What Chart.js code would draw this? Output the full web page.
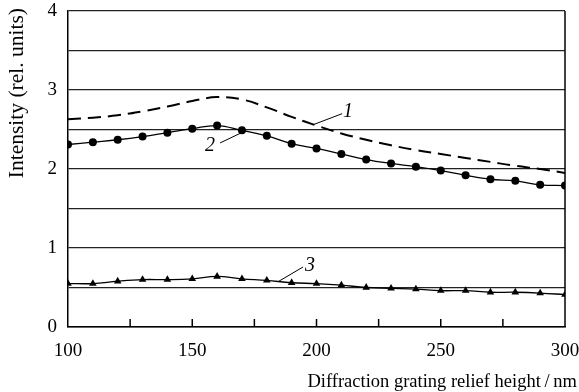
<!DOCTYPE html>
<html><head><meta charset="utf-8">
<script src="https://cdn.jsdelivr.net/npm/chart.js@4/dist/chart.umd.min.js"></script>
<style>html,body{margin:0;padding:0;background:#fff}#wrap{width:579px;height:392px}</style>
</head><body><div id="wrap"><canvas id="c" width="579" height="392"></canvas></div>
<script>
// ---- data ----
const heights = [100,110,120,130,140,150,160,170,180,190,200,210,220,230,240,250,260,270,280,290,300];
const curve1 = [2.63,2.65,2.68,2.73,2.79,2.86,2.91,2.88,2.78,2.66,2.55,2.45,2.37,2.30,2.24,2.19,2.14,2.09,2.04,2.00,1.95];
const curve2 = [2.31,2.34,2.37,2.41,2.46,2.51,2.55,2.49,2.42,2.32,2.26,2.19,2.12,2.07,2.03,1.98,1.92,1.87,1.85,1.80,1.79];
const curve3 = [0.55,0.55,0.58,0.60,0.60,0.61,0.64,0.61,0.59,0.56,0.55,0.53,0.50,0.49,0.48,0.46,0.46,0.44,0.44,0.43,0.41];
const xTickLabels = [100,150,200,250,300];
const yTickLabels = [0,1,2,3,4];
const curveNames = ['1','2','3'];
const xTitle = 'Diffraction grating relief height\u2009/\u2009nm';
const yTitle = 'Intensity (rel. units)';

// curve-label annotations in data coordinates: [text x, text y, leader start x, y, leader end x, y]
const curveLabelPlaces = [
  [212.7, 2.72, 198.6, 2.56, 210.3, 2.70],
  [157.1, 2.29, 161.2, 2.33, 171.2, 2.48],
  [197.4, 0.78, 184.9, 0.58, 194.6, 0.76]
];

const pts = arr => heights.map((h,i)=>({x:h,y:arr[i]}));
const FONT = "'Liberation Serif','Times New Roman',serif";

const decor = {
  id:'decor',
  afterDraw(chart){
    const ctx = chart.ctx, a = chart.chartArea, xs = chart.scales.x, ys = chart.scales.y;
    ctx.save();
    ctx.strokeStyle = '#000';
    ctx.lineWidth = 1.5;
    // right border
    ctx.beginPath(); ctx.moveTo(a.right, a.top); ctx.lineTo(a.right, a.bottom); ctx.stroke();
    // inner x ticks
    xs.ticks.forEach(t=>{
      if (t.value <= xs.min || t.value >= xs.max) return;
      const px = xs.getPixelForValue(t.value);
      ctx.beginPath(); ctx.moveTo(px, a.bottom); ctx.lineTo(px, a.bottom - 8); ctx.stroke();
    });
    // curve labels
    ctx.lineWidth = 1;
    ctx.fillStyle = '#000';
    ctx.font = "italic 20px " + FONT;
    ctx.textAlign = 'center'; ctx.textBaseline = 'middle';
    curveLabelPlaces.forEach((p,i)=>{
      ctx.beginPath();
      ctx.moveTo(xs.getPixelForValue(p[2]), ys.getPixelForValue(p[3]));
      ctx.lineTo(xs.getPixelForValue(p[4]), ys.getPixelForValue(p[5]));
      ctx.stroke();
      ctx.fillText(curveNames[i], xs.getPixelForValue(p[0]), ys.getPixelForValue(p[1]));
    });
    // axis titles
    ctx.font = "18.5px " + FONT;
    ctx.textAlign = 'right'; ctx.textBaseline = 'alphabetic';
    ctx.fillText(xTitle, 577, 387);
    ctx.save();
    ctx.font = "21.5px " + FONT;
    ctx.translate(23, 8);
    ctx.rotate(-Math.PI/2);
    ctx.textAlign = 'right';
    ctx.fillText(yTitle, 0, 0);
    ctx.restore();
    ctx.restore();
  }
};

new Chart(document.getElementById('c'), {
  type:'line',
  data:{
    datasets:[
      {label:'1', data:pts(curve1), borderColor:'#000', borderWidth:2, borderDash:[13,7], pointRadius:0, tension:0.4, fill:false},
      {label:'2', data:pts(curve2), borderColor:'#000', borderWidth:1.3, pointStyle:'circle', pointRadius:4, pointBackgroundColor:'#000', pointBorderWidth:0, tension:0.4, fill:false},
      {label:'3', data:pts(curve3), borderColor:'#000', borderWidth:1.3, pointStyle:'triangle', pointRadius:4.4, pointBackgroundColor:'#000', pointBorderWidth:0, tension:0.4, fill:false}
    ]
  },
  options:{
    responsive:false, animation:false, devicePixelRatio:1,
    layout:{padding:{top:11,right:14,left:0,bottom:0}},
    plugins:{legend:{display:false}, tooltip:{enabled:false}},
    scales:{
      x:{type:'linear', min:100, max:300,
        ticks:{stepSize:25, autoSkip:false, maxRotation:0, color:'#000', font:{family:FONT,size:19}, padding:13,
          callback:v=> xTickLabels.includes(v) ? String(v) : ''},
        grid:{drawOnChartArea:false, drawTicks:false},
        border:{display:true, color:'#000', width:1.5},
        afterFit:s=>{s.height = 65; s.paddingLeft = 0; s.paddingRight = 0;}
      },
      y:{min:0, max:4,
        ticks:{stepSize:0.5, autoSkip:false, color:'#000', font:{family:FONT,size:19}, padding:11,
          callback:v=> yTickLabels.includes(v) ? String(v) : ''},
        grid:{color:'#222', lineWidth:1.2, drawTicks:false},
        border:{display:true, color:'#000', width:1.5},
        afterFit:s=>{s.width = 68; s.paddingTop = 0; s.paddingBottom = 0;}
      }
    }
  },
  plugins:[decor]
});
</script></body></html>
